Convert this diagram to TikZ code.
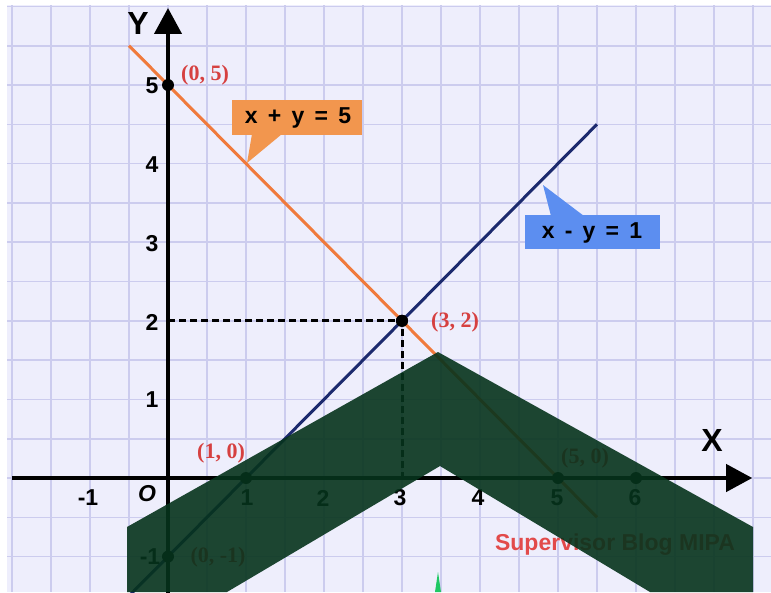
\documentclass[tikz,border=0pt]{standalone}
\usepackage{fontspec}
\setmainfont{Liberation Sans}
\newfontfamily\labfont{Liberation Serif}
\newfontfamily\eqfont{Liberation Sans}[WordSpace=1.6]
\usetikzlibrary{arrows.meta}
\definecolor{bg}{RGB}{238,238,252}
\definecolor{gridc}{RGB}{204,204,238}
\definecolor{orline}{RGB}{240,122,60}
\definecolor{orbox}{RGB}{242,150,78}
\definecolor{blline}{RGB}{28,42,110}
\definecolor{blbox}{RGB}{92,142,240}
\definecolor{ptred}{RGB}{214,64,64}
\definecolor{wmred}{RGB}{226,74,74}
\definecolor{ovl}{RGB}{6,51,28}
\definecolor{spk}{RGB}{30,200,100}
\tikzset{
  tick/.style={font=\fontsize{23}{25}\selectfont\bfseries, inner sep=0pt},
  axlab/.style={font=\fontsize{32}{34}\selectfont\bfseries, inner sep=0pt},
  ptlab/.style={font=\labfont\fontsize{22}{24}\selectfont\bfseries, text=ptred, inner sep=0pt},
  dot/.style={circle, fill=black, inner sep=0pt, minimum size=12pt},
  axisline/.style={line width=4pt, -{Triangle[length=26pt,width=27pt]}},
  eqtext/.style={font=\eqfont\fontsize{23}{25}\selectfont\bfseries, inner sep=0pt},
  gridline/.style={gridc, line width=1.6pt},
  dashline/.style={line width=3pt, dash pattern=on 7pt off 4pt},
}
\begin{document}
\begin{tikzpicture}[x=1pt,y=-1pt]
\useasboundingbox (0,0) rectangle (771,592);
\fill[white] (0,0) rectangle (771,592);
\fill[bg] (7,5) rectangle (771,592);
% grid
\foreach \i in {0,...,19} \draw[gridline] ({12+39*\i},5) -- ({12+39*\i},592);
\foreach \k in {-2,...,12} \draw[gridline] (7,{478-39.3*\k}) -- (771,{478-39.3*\k});

\begin{scope}[shift={(168,478)}, x=78pt, y=78.6pt]
  \coordinate (o1) at (-0.5,5.5);
  \coordinate (o2) at (5.5,-0.5);
  \coordinate (b1) at (-0.5,-1.5);
  \coordinate (b2) at (5.5,4.5);
  \coordinate (xa) at (-2,0);
  \coordinate (xb) at (7.49,0);
  \coordinate (ya) at (0,-1.5);
  \coordinate (yb) at (0,5.98);
  \coordinate (y2) at (0,2);
  \coordinate (x3) at (3,0);
  \draw[orline, line width=3pt] (o1) -- (o2);
  \draw[blline, line width=3pt] (b1) -- (b2);
  \draw[axisline] (xa) -- (xb);
  \draw[axisline] (ya) -- (yb);
  \node[dot] (p05) at (0,5) {};
  \node[dot] (p32) at (3,2) {};
  \node[dot] (p10) at (1,0) {};
  \node[dot] (p50) at (5,0) {};
  \node[dot] (p60) at (6,0) {};
  \node[dot] (p0m) at (0,-1) {};
  \draw[dashline] (y2) -- (p32.center) -- (x3);
  \node[dot] at (3,2) {};
\end{scope}

% tick labels
\node[tick] (tm1) at (88,498) {-1};
\node[tick, font=\fontsize{23}{25}\selectfont\bfseries\itshape] (tO) at (147,494) {O};
\node[tick] (t1) at (247,498) {1};
\node[tick] (t2) at (323,498) {2};
\node[tick] (t3) at (400,498) {3};
\node[tick] (t4) at (478,498) {4};
\node[tick] (t5) at (557,498) {5};
\node[tick] (t6) at (635,498) {6};
\node[tick] (u1) at (152,400) {1};
\node[tick] (u2) at (152,322) {2};
\node[tick] (u3) at (152,244) {3};
\node[tick] (u4) at (152,165) {4};
\node[tick] (u5) at (152,86) {5};
\node[tick] (um1) at (150,557) {-1};
\node[axlab] (lx) at (712,440) {X};
\node[axlab] (ly) at (138,23) {Y};

% point labels
\node[ptlab] (l05) at (205,75) {(0, 5)};
\node[ptlab] (l32) at (455,322) {(3, 2)};
\node[ptlab] (l10) at (221,453) {(1, 0)};
\node[ptlab] (l50) at (585,458) {(5, 0)};
\node[ptlab] (l0m) at (218,557) {(0, -1)};

% callouts
\fill[orbox] (232,100) rectangle (362,135);
\fill[orbox] (252,134) -- (282,134) -- (247,163) -- cycle;
\node[eqtext] (eq1) at (298,118) {x + y = 5};
\fill[blbox] (525,215) rectangle (660,249);
\fill[blbox] (551,216) -- (584,216) -- (543,185) -- cycle;
\node[eqtext] (eq2) at (592,233) {x - y = 1};

% watermark
\node[font=\fontsize{23}{25}\selectfont\bfseries, text=wmred, inner sep=0pt] (wm) at (615,545) {Supervisor Blog MIPA};

% overlay
\fill[ovl, opacity=0.9] (127,592) -- (127,527) -- (438,352) -- (753,527) -- (753,592) -- (650,592) -- (440,466) -- (227,592) -- cycle;
\fill[spk] (435,592) -- (438,572) -- (441,592) -- cycle;
\end{tikzpicture}
\end{document}
